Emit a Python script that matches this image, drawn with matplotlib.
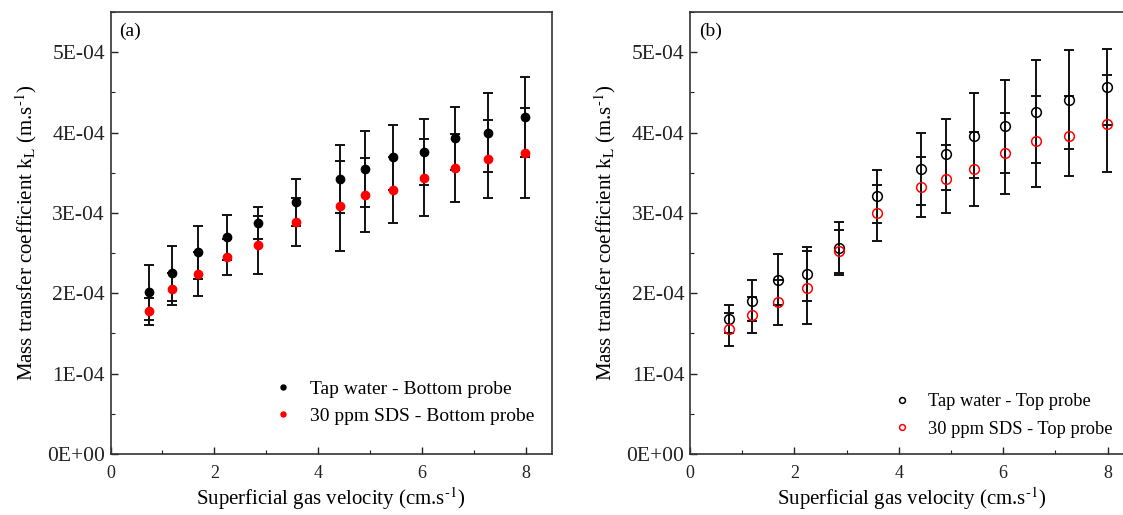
import matplotlib
matplotlib.use("Agg")
import matplotlib.pyplot as plt
from matplotlib.ticker import MultipleLocator, FuncFormatter

plt.rcParams['font.family'] = ['Liberation Serif', 'DejaVu Serif']
plt.rcParams['mathtext.fontset'] = 'stix'

# superficial gas velocity (cm/s), same for both panels
velocity = [0.74, 1.19, 1.68, 2.24, 2.85, 3.58, 4.43, 4.91, 5.44, 6.04, 6.63, 7.27, 7.98]

# (a) bottom probe, kL in 1E-04 m/s
tap_bottom = [2.01, 2.25, 2.51, 2.70, 2.87, 3.13, 3.42, 3.545, 3.69, 3.76, 3.93, 4.00, 4.19]
tap_bottom_err = [0.34, 0.34, 0.33, 0.28, 0.20, 0.29, 0.42, 0.47, 0.41, 0.41, 0.39, 0.49, 0.50]
sds_bottom = [1.775, 2.05, 2.24, 2.45, 2.60, 2.89, 3.09, 3.225, 3.28, 3.44, 3.56, 3.67, 3.74]
sds_bottom_err = [0.17, 0.20, 0.27, 0.22, 0.36, 0.30, 0.56, 0.46, 0.41, 0.48, 0.42, 0.48, 0.56]

# (b) top probe
tap_top = [1.68, 1.91, 2.17, 2.24, 2.56, 3.21, 3.545, 3.73, 3.96, 4.08, 4.26, 4.41, 4.57]
tap_top_err = [0.17, 0.25, 0.32, 0.34, 0.33, 0.33, 0.45, 0.44, 0.53, 0.58, 0.64, 0.62, 0.47]
sds_top = [1.55, 1.73, 1.89, 2.07, 2.52, 3.00, 3.325, 3.42, 3.545, 3.74, 3.89, 3.96, 4.11]
sds_top_err = [0.20, 0.22, 0.28, 0.45, 0.27, 0.35, 0.37, 0.42, 0.46, 0.50, 0.57, 0.50, 0.60]

scale = 1e-4
red = '#ff0000'

fig = plt.figure(figsize=(11.23, 5.15), dpi=100)
ax_a = fig.add_axes([0.0984, 0.1184, 0.3928, 0.8583])
ax_b = fig.add_axes([0.6144, 0.1184, 0.3951, 0.8583])


def sc(vals):
    return [v * scale for v in vals]


def style_axis(ax, tag):
    ax.set_xlim(0, 8.5)
    ax.set_ylim(0, 5.5e-4)
    ax.xaxis.set_major_locator(MultipleLocator(2))
    ax.xaxis.set_minor_locator(MultipleLocator(1))
    ax.yaxis.set_major_locator(MultipleLocator(1e-4))
    ax.yaxis.set_minor_locator(MultipleLocator(0.5e-4))
    ax.yaxis.set_major_formatter(FuncFormatter(lambda v, p: f"{v:.0E}"))
    ax.tick_params(which='both', direction='in', top=False, right=False, colors='#222222')
    ax.tick_params(which='major', length=5, width=1.0)
    ax.tick_params(which='minor', length=3, width=0.8)
    ax.tick_params(axis='x', labelsize=13, pad=8)
    ax.tick_params(axis='y', labelsize=15.5, pad=4)
    for s in ax.spines.values():
        s.set_linewidth(1.2)
        s.set_color('#333333')
    ax.set_xlabel("Superficial gas velocity (cm.s$^{\\text{-1}}$)", fontsize=15, labelpad=2)
    ax.set_ylabel("Mass transfer coefficient k$_{\\text{L}}$ (m.s$^{\\text{-1}}$)",
                  fontsize=15, labelpad=6)
    ax.text(0.02, 0.975, tag, transform=ax.transAxes, fontsize=14, va='top', ha='left')


err_kw = dict(fmt='none', ecolor='#111111', elinewidth=1.4, capsize=3.5, capthick=1.4)

# panel (a)
ax_a.errorbar(velocity, sc(tap_bottom), yerr=sc(tap_bottom_err), **err_kw)
ax_a.errorbar(velocity, sc(sds_bottom), yerr=sc(sds_bottom_err), **err_kw)
ax_a.plot(velocity, sc(tap_bottom), 'o', color='black', ms=6, ls='none', label='Tap water - Bottom probe', zorder=5)
ax_a.plot(velocity, sc(sds_bottom), 'o', color=red, ms=6, ls='none', label='30 ppm SDS - Bottom probe', zorder=5)
style_axis(ax_a, '(a)')
ax_a.legend(loc='lower right', bbox_to_anchor=(1.0, 0.026), frameon=False, fontsize=14,
            markerscale=0.6, handletextpad=0.6, labelspacing=0.5, handlelength=1.6)

# panel (b)
ax_b.errorbar(velocity, sc(tap_top), yerr=sc(tap_top_err), **err_kw)
ax_b.errorbar(velocity, sc(sds_top), yerr=sc(sds_top_err), **err_kw)
ax_b.plot(velocity, sc(tap_top), 'o', mfc='none', mec='black', mew=1.1, ms=7, ls='none', label='Tap water - Top probe', zorder=5)
ax_b.plot(velocity, sc(sds_top), 'o', mfc='none', mec=red, mew=1.1, ms=7, ls='none', label='30 ppm SDS - Top probe', zorder=5)
style_axis(ax_b, '(b)')
ax_b.legend(loc='lower left', bbox_to_anchor=(0.408, 0.0), frameon=False, fontsize=13.2,
            markerscale=0.6, handletextpad=0.6, labelspacing=0.55, handlelength=1.6)

fig.savefig('out.png', dpi=100)
